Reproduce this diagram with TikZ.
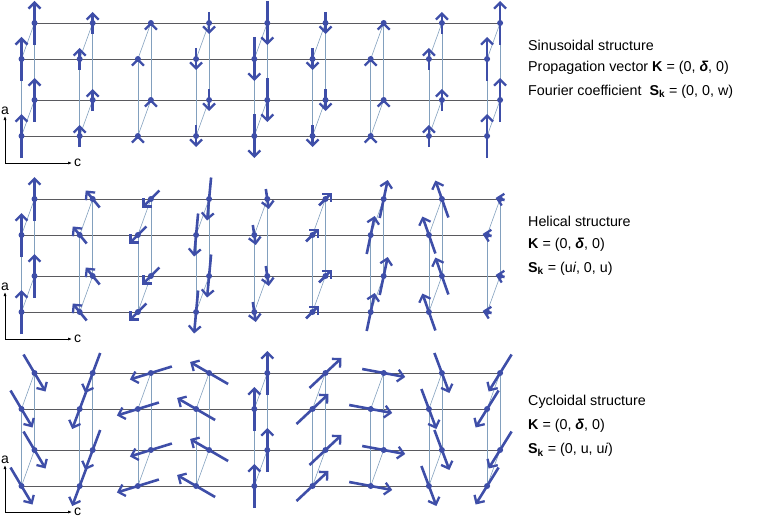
\documentclass[tikz,border=0pt]{standalone}
\usepackage{fontspec}
\setmainfont{Liberation Sans}
\usetikzlibrary{arrows.meta}
\definecolor{spin}{RGB}{62,78,168}
\definecolor{latt}{RGB}{90,90,95}
\definecolor{edge}{RGB}{130,160,190}
\tikzset{
  spinarrow/.style={draw=spin, line width=2.6pt, -{Straight Barb[length=6pt,width=12pt,line width=2.3pt]}},
  site/.style={fill=spin},
  row/.style={draw=latt, line width=0.9pt},
  rung/.style={draw=edge, line width=0.6pt},
  axis/.style={draw=black, line width=0.7pt, -{Latex[length=4pt,width=3pt]}},
  lab/.style={anchor=west, inner sep=0pt, font=\fontsize{14.3}{16}\selectfont},
}
\newcommand{\mydelta}{\textbf{\textit{δ}}}
\newcommand{\mypanel}[2]{%
  \draw[row] (34.5,#1) -- (500,#1);
  \draw[row] (34.5,#1+77) -- (500,#1+77);
  \draw[row] (21.5,#1+36) -- (487,#1+36);
  \draw[row] (21.5,#1+113) -- (487,#1+113);
  \foreach \j in {0,...,8}{
    \pgfmathsetmacro{\X}{21.5+58.2*\j}
    \draw[rung] (\X,#1+36) -- (\X,#1+113);
    \draw[rung] (\X+13,#1) -- (\X+13,#1+77);
    \draw[rung] (\X,#1+36) -- (\X+13,#1);
    \draw[rung] (\X,#1+113) -- (\X+13,#1+77);
  }
  \foreach \vx/\vy [count=\k from 0] in {#2}{
    \pgfmathsetmacro{\X}{21.5+58.2*\k}
    \foreach \px/\py in {\X+13/#1, \X/#1+36, \X+13/#1+77, \X/#1+113}{
      \draw[spinarrow] (\px-\vx/2,\py+\vy/2) -- (\px+\vx/2,\py-\vy/2);
      \fill[site] (\px,\py) circle (3pt);
    }
  }
}
\newcommand{\myaxes}[1]{%
  \coordinate (o) at (5,#1);
  \draw[axis] (o) -- (5,#1-47);
  \draw[axis] (o) -- (72,#1);
  \node[font=\fontsize{14}{15}\selectfont, anchor=south, inner sep=1pt] at (5,#1-47) {a};
  \node[font=\fontsize{14}{15}\selectfont, anchor=west, inner sep=1pt] at (73,#1) {c};
}
\begin{document}
\begin{tikzpicture}[x=1pt,y=-1pt]
\useasboundingbox (0,0) rectangle (768,527);
\mypanel{23}{0/44, 0/22, 0/2, 0/-22, 0/-44, 0/-22, 0/2, 0/22, 0/44}
\mypanel{199}{0/44, -14/17, -17/-17, -4/-43, 3/-20, 13/13, 8/38, -13/37, -9/2}
\mypanel{373}{22/-37, -15/-40, -42/-13, -38/22, 0/44, 32/30, 43/-8, 15/-40, -23/-37}
\myaxes{163}
\myaxes{339}
\myaxes{512}
\node[lab] at (528,45) {Sinusoidal structure};
\node[lab] at (528,68) {Propagation vector \textbf{K} = (0, \mydelta, 0)};
\node[lab] at (528,92) {Fourier coefficient\ \ \textbf{S}\textsubscript{\textbf{k}} = (0, 0, w)};
\node[lab] at (528,221) {Helical structure};
\node[lab] at (528,245) {\textbf{K} = (0, \mydelta, 0)};
\node[lab] at (528,269) {\textbf{S}\textsubscript{\textbf{k}} = (u\textit{i}, 0, u)};
\node[lab] at (528,402) {Cycloidal structure};
\node[lab] at (528,426) {\textbf{K} = (0, \mydelta, 0)};
\node[lab] at (528,450) {\textbf{S}\textsubscript{\textbf{k}} = (0, u, u\textit{i})};
\end{tikzpicture}
\end{document}
